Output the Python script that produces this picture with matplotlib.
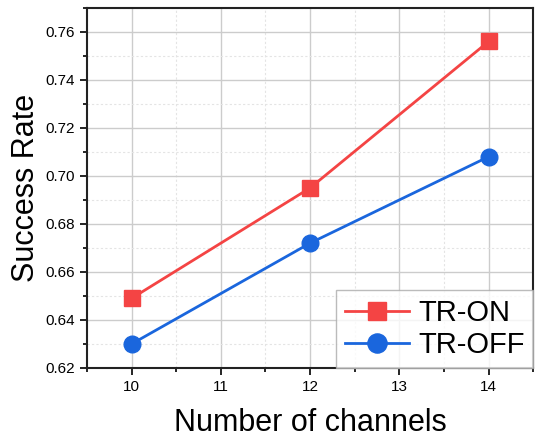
import matplotlib
matplotlib.use("Agg")
import matplotlib.pyplot as plt
from matplotlib.ticker import MultipleLocator

channels = [10, 12, 14]
tr_on = [0.649, 0.695, 0.756]
tr_off = [0.630, 0.672, 0.708]

plt.rcParams['font.family'] = ['Liberation Sans', 'DejaVu Sans']

fig = plt.figure(figsize=(5.37, 4.37), dpi=100)
ax = fig.add_axes([0.162, 0.158, 0.831, 0.824])

ax.plot(channels, tr_on, color='#f44444', marker='s', markersize=11, linewidth=2, label='TR-ON', zorder=3)
ax.plot(channels, tr_off, color='#1a66dd', marker='o', markersize=12, linewidth=2, label='TR-OFF', zorder=3)

ax.set_xlim(9.5, 14.5)
ax.set_ylim(0.62, 0.77)
ax.xaxis.set_major_locator(MultipleLocator(1))
ax.xaxis.set_minor_locator(MultipleLocator(0.5))
ax.yaxis.set_minor_locator(MultipleLocator(0.01))
ax.set_yticks([0.62, 0.64, 0.66, 0.68, 0.70, 0.72, 0.74, 0.76])
ax.set_yticklabels(['%.2f' % v for v in ax.get_yticks()])

ax.grid(which='major', color='#cccccc', linewidth=1)
ax.grid(which='minor', color='#e4e4e4', linewidth=0.8, linestyle=(0, (2, 2)))
ax.set_axisbelow(True)

ax.tick_params(which='major', direction='out', length=5, width=1.2, labelsize=11)
ax.tick_params(which='minor', direction='out', length=3, width=1.2)
for s in ax.spines.values():
    s.set_linewidth(1.5)
    s.set_color('#222222')

ax.set_xlabel('Number of channels', fontsize=22, labelpad=10)
ax.set_ylabel('Success Rate', fontsize=22, labelpad=3)

leg = ax.legend(loc='lower right', fontsize=21, frameon=True, fancybox=False,
                borderaxespad=0, handlelength=2.2, handletextpad=0.3,
                borderpad=0.3, labelspacing=0.15, markerscale=1.15)
leg.get_frame().set_edgecolor('#aaaaaa')
leg.get_frame().set_linewidth(1)

fig.savefig('out.png', dpi=100)
